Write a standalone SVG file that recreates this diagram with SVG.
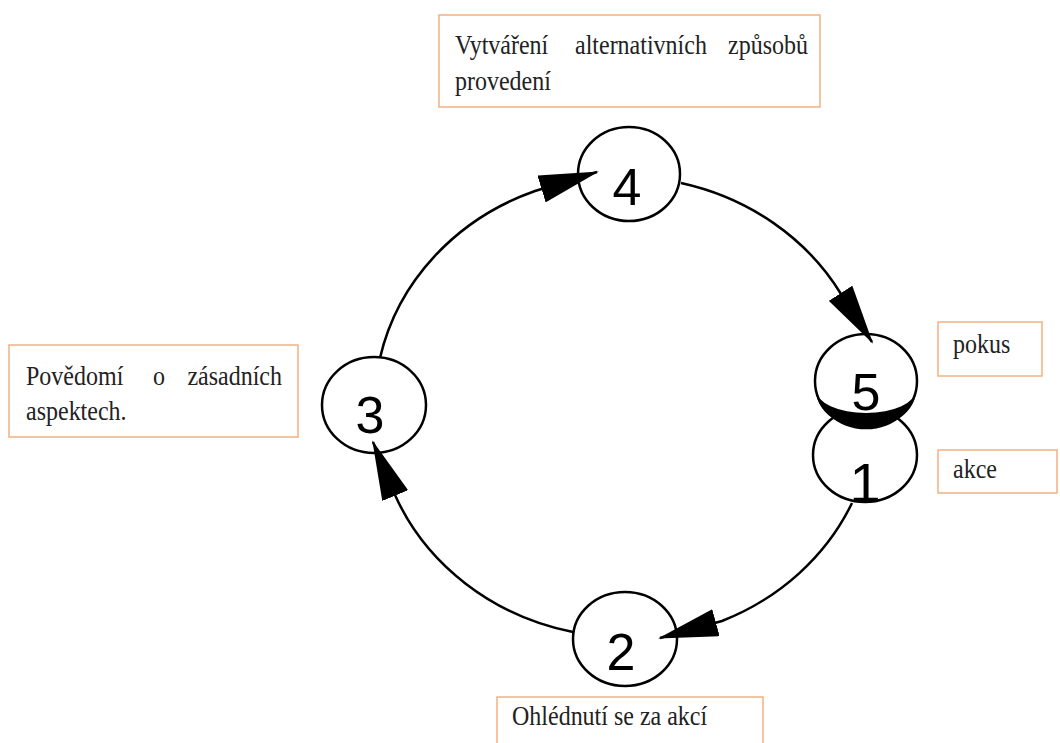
<svg xmlns="http://www.w3.org/2000/svg" width="1060" height="743" viewBox="0 0 1060 743">
<style>
.box{fill:#fff;stroke:#F4B183;stroke-width:1.5}
.bt{font-family:"Liberation Serif","Times New Roman",serif;font-size:24px;fill:#222}
.node{fill:#fff;stroke:#000;stroke-width:2.5}
.num{font-family:"Liberation Sans",Arial,sans-serif;font-size:52px;fill:#000;text-anchor:middle}
.con{fill:none;stroke:#000;stroke-width:2.5}
</style>
<defs>
<marker id="ah" markerUnits="userSpaceOnUse" viewBox="0 0 60 28" refX="58" refY="14" markerWidth="60" markerHeight="28" orient="auto">
<path d="M0,0 L60,14 L0,28 z" fill="#000"/>
</marker>
</defs>
<rect width="1060" height="743" fill="#fff"/>
<g id="node1">
<ellipse class="node" cx="865" cy="455" rx="52" ry="47"/>
<text class="num" x="865" y="502" style="font-size:56px">1</text>
</g>
<g id="node5">
<ellipse class="node" cx="866" cy="381" rx="51" ry="47"/>
<path d="M816,390 A50,38 0 0 0 916,390 A50,23 0 0 1 816,390 z" fill="#000"/>
<text class="num" x="866" y="410">5</text>
</g>
<g id="node4">
<ellipse class="node" cx="629" cy="174" rx="51" ry="47"/>
<text class="num" x="627" y="205">4</text>
</g>
<g id="node3">
<ellipse class="node" cx="374" cy="405" rx="52" ry="48"/>
<text class="num" x="370" y="433">3</text>
</g>
<g id="node2">
<ellipse class="node" cx="625" cy="639" rx="52" ry="47"/>
<text class="num" x="621" y="670">2</text>
</g>
<g id="label-top">
<rect class="box" x="439" y="15" width="381" height="92"/>
<text class="bt" transform="translate(455,54) scale(1,1.1)">Vytváření</text>
<text class="bt" transform="translate(575,54) scale(1,1.1)">alternativních</text>
<text class="bt" transform="translate(808,54) scale(1,1.1)" text-anchor="end">způsobů</text>
<text class="bt" transform="translate(455,90) scale(1,1.1)">provedení</text>
</g>
<g id="label-left">
<rect class="box" x="9" y="345" width="289" height="92"/>
<text class="bt" transform="translate(26,385) scale(1,1.1)">Povědomí</text>
<text class="bt" transform="translate(153,385) scale(1,1.1)">o</text>
<text class="bt" transform="translate(282,385) scale(1,1.1)" text-anchor="end">zásadních</text>
<text class="bt" transform="translate(26,420) scale(1,1.1)">aspektech.</text>
</g>
<g id="label-pokus">
<rect class="box" x="938" y="322" width="104" height="54"/>
<text class="bt" transform="translate(953,353) scale(1,1.1)">pokus</text>
</g>
<g id="label-akce">
<rect class="box" x="938" y="450" width="119" height="43"/>
<text class="bt" transform="translate(953,478) scale(1,1.1)">akce</text>
</g>
<g id="label-bottom">
<rect class="box" x="497" y="697" width="266" height="60"/>
<text class="bt" transform="translate(512,725) scale(1,1.1)">Ohlédnutí se za akcí</text>
</g>
<g id="connectors">
<path class="con" d="M852,503 A250,230 0 0 1 722,621 L660,638" marker-end="url(#ah)"/>
<path class="con" d="M573,632 A250,230 0 0 1 395,495 L373,442" marker-end="url(#ah)"/>
<path class="con" d="M380,358 A250,230 0 0 1 535,191 L597,172" marker-end="url(#ah)"/>
<path class="con" d="M681,183 A250,230 0 0 1 841,294 L872,342" marker-end="url(#ah)"/>
</g>
</svg>
